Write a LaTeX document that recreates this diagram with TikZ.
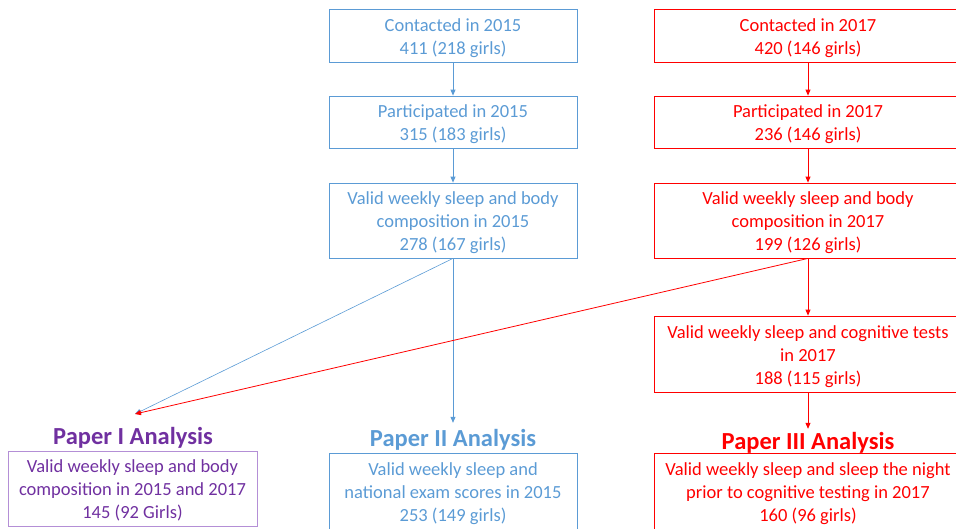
\documentclass[tikz,border=0pt]{standalone}
\usepackage{fontspec}
\setmainfont{Carlito}
\usetikzlibrary{arrows.meta}
\definecolor{cblue}{HTML}{5B9BD5}
\definecolor{cred}{HTML}{FF0000}
\definecolor{cpurple}{HTML}{7030A0}
\definecolor{cpurpleline}{HTML}{B48FD6}
\tikzset{
  x=1pt, y=-1pt,
  box/.style={draw, line width=0.8pt, inner sep=0pt},
  bluebox/.style={box, draw=cblue, minimum width=248pt},
  redbox/.style={box, draw=cred, minimum width=308pt},
  purplebox/.style={box, draw=cpurpleline, minimum width=249pt},
  boxtext/.style={align=center, inner sep=0pt,
    font=\fontsize{18.5}{23}\selectfont},
  title/.style={font=\fontsize{24.5}{29}\selectfont\bfseries, inner xsep=0pt,
    text height=16pt, text depth=0pt},
  flow/.style={line width=0.8pt, -{Triangle[length=6pt,width=5pt]}},
}
\begin{document}
\begin{tikzpicture}
\useasboundingbox (0,0) rectangle (956,528);

% 2015 cohort
\node[bluebox, minimum height=53pt] (b1) at (453,35.5) {};
\node[boxtext, text=cblue] (b1t) at (453,38) {Contacted in 2015\\411 (218 girls)};
\node[bluebox, minimum height=52pt] (b2) at (453,122) {};
\node[boxtext, text=cblue] (b2t) at (453,124.5) {Participated in 2015\\315 (183 girls)};
\node[bluebox, minimum height=75pt] (b3) at (453,220.5) {};
\node[boxtext, text=cblue] (b3t) at (453,223) {Valid weekly sleep and body\\composition in 2015\\278 (167 girls)};

% 2017 cohort
\node[redbox, minimum height=53pt] (r1) at (808,35.5) {};
\node[boxtext, text=cred] (r1t) at (808,38) {Contacted in 2017\\420 (146 girls)};
\node[redbox, minimum height=52pt] (r2) at (808,122) {};
\node[boxtext, text=cred] (r2t) at (808,124.5) {Participated in 2017\\236 (146 girls)};
\node[redbox, minimum height=75pt] (r3) at (808,220.5) {};
\node[boxtext, text=cred] (r3t) at (808,223) {Valid weekly sleep and body\\composition in 2017\\199 (126 girls)};
\node[redbox, minimum height=76pt] (r4) at (808,354) {};
\node[boxtext, text=cred] (r4t) at (808,356.5) {Valid weekly sleep and cognitive tests\\in 2017\\188 (115 girls)};

% analyses
\node[title, text=cpurple, inner ysep=6pt] (t1) at (133,436) {Paper I Analysis};
\node[purplebox, minimum height=75pt] (p1) at (132.5,488.5) {};
\node[boxtext, text=cpurple] (p1t) at (132.5,490.5) {Valid weekly sleep and body\\composition in 2015 and 2017\\145 (92 Girls)};
\coordinate (p1in) at (135,414);

\node[title, text=cblue, inner ysep=7pt] (t2) at (453,438) {Paper II Analysis};
\node[bluebox, minimum height=78pt] (p2) at (453,492) {};
\node[boxtext, text=cblue] (p2t) at (453,494) {Valid weekly sleep and\\national exam scores in 2015\\253 (149 girls)};

\node[title, text=cred, inner ysep=4pt] (t3) at (808,441) {Paper III Analysis};
\node[redbox, minimum height=78pt] (p3) at (808,492) {};
\node[boxtext, text=cred] (p3t) at (808,494) {Valid weekly sleep and sleep the night\\prior to cognitive testing in 2017\\160 (96 girls)};

% connectors
\draw[flow, cblue] (b1) -- (b2);
\draw[flow, cblue] (b2) -- (b3);
\draw[flow, cblue] (b3.south) -- (t2.north);
\draw[flow, cblue, line width=0.6pt] (b3.south) -- (p1in);

\draw[flow, cred] (r1) -- (r2);
\draw[flow, cred] (r2) -- (r3);
\draw[flow, cred] (r3) -- (r4);
\draw[flow, cred] (r4.south) -- (t3.north);
\draw[flow, cred] (r3.south) -- (p1in);
\end{tikzpicture}
\end{document}
